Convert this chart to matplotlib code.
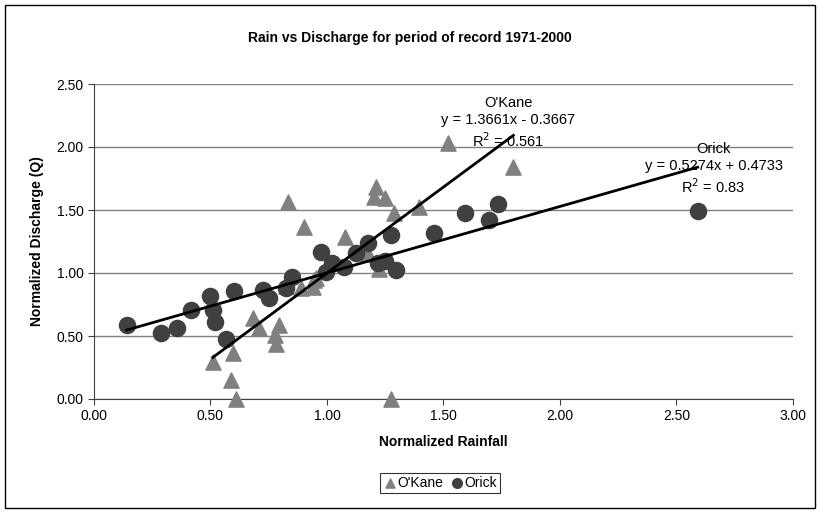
import matplotlib.pyplot as plt
import numpy as np
from matplotlib.patches import Rectangle

plt.rcParams['font.family'] = ['Liberation Sans', 'DejaVu Sans']

# O'Kane normalized rainfall / discharge
okane_x = [0.51, 0.596, 0.586, 0.61, 0.682, 0.71, 0.775, 0.779, 0.793, 0.825,
           0.889, 0.954, 0.946, 0.832, 0.903, 1.079, 1.211, 1.20, 1.251, 1.287,
           1.393, 1.518, 1.80, 1.276, 1.225, 1.175, 0.94]
okane_y = [0.296, 0.363, 0.151, 0.0, 0.64, 0.561, 0.508, 0.44, 0.587, 0.897,
           0.878, 0.958, 0.944, 1.566, 1.368, 1.288, 1.685, 1.606, 1.593, 1.479,
           1.526, 2.029, 1.839, 0.0, 1.03, 1.15, 0.89]

# Orick normalized rainfall / discharge
orick_x = [0.14, 0.288, 0.357, 0.417, 0.499, 0.51, 0.52, 0.567, 0.603, 0.725,
           0.75, 0.825, 0.849, 0.975, 1.02, 0.997, 1.075, 1.125, 1.175, 1.218,
           1.251, 1.275, 1.297, 1.461, 1.593, 1.697, 1.733, 2.591]
orick_y = [0.587, 0.52, 0.566, 0.706, 0.82, 0.706, 0.614, 0.476, 0.857, 0.865,
           0.80, 0.88, 0.97, 1.169, 1.077, 1.01, 1.05, 1.156, 1.236, 1.077,
           1.098, 1.30, 1.024, 1.32, 1.479, 1.42, 1.545, 1.494]

fig = plt.figure(figsize=(8.2, 5.12), dpi=100)
ax = fig.add_axes([94 / 820, 113 / 512, 699 / 820, 315 / 512])

# outer chart border
fig.patches.append(Rectangle((5 / 820, 4 / 512), 810 / 820, 503 / 512,
                             transform=fig.transFigure, fill=False,
                             edgecolor='black', linewidth=1))

ax.scatter(okane_x, okane_y, marker='^', s=120, color='#808080', label="O'Kane", zorder=3, clip_on=False)
ax.scatter(orick_x, orick_y, marker='o', s=135, color='#404040', label='Orick', zorder=4, clip_on=False)

# linear trendlines
xo = np.array([min(okane_x), max(okane_x)])
ax.plot(xo, 1.3661 * xo - 0.3667, color='black', linewidth=2, zorder=5)
xr = np.array([min(orick_x), max(orick_x)])
ax.plot(xr, 0.5274 * xr + 0.4733, color='black', linewidth=2, zorder=5)

ax.text(1.779, 2.19, "O'Kane\ny = 1.3661x - 0.3667\nR$^2$ = 0.561", ha='center', va='center',
        fontsize=10.5, linespacing=1.3, zorder=6)
ax.text(2.659, 1.825, "Orick\ny = 0.5274x + 0.4733\nR$^2$ = 0.83", ha='center', va='center',
        fontsize=10.5, linespacing=1.3, zorder=6)

ax.set_xlim(0, 3)
ax.set_ylim(0, 2.5)
ax.set_xticks(np.arange(0, 3.01, 0.5))
ax.set_yticks(np.arange(0, 2.51, 0.5))
ax.xaxis.set_major_formatter(plt.FormatStrFormatter('%.2f'))
ax.yaxis.set_major_formatter(plt.FormatStrFormatter('%.2f'))
ax.tick_params(labelsize=10, direction='out', length=4, color='#404040')
ax.grid(axis='y', color='#808080', linewidth=1)
ax.set_axisbelow(True)
for side in ['top', 'right']:
    ax.spines[side].set_visible(False)
ax.spines['left'].set_color('#404040')
ax.spines['bottom'].set_color('#404040')

ax.set_xlabel('Normalized Rainfall', fontsize=10, fontweight='bold', labelpad=8)
ax.set_ylabel('Normalized Discharge (Q)', fontsize=10, fontweight='bold', labelpad=9)
fig.text(0.5, 1 - 38 / 512, 'Rain vs Discharge for period of record 1971-2000',
         ha='center', va='center', fontsize=10, fontweight='bold')

leg = fig.legend(loc='center', bbox_to_anchor=(440 / 820, 1 - 483 / 512), ncol=2,
                 fontsize=10, frameon=True, fancybox=False, edgecolor='black',
                 handletextpad=0.0, columnspacing=0.5, borderpad=0.25,
                 markerscale=0.6, handlelength=1.0)
leg.get_frame().set_linewidth(0.8)

plt.savefig('out.png', dpi=100)
